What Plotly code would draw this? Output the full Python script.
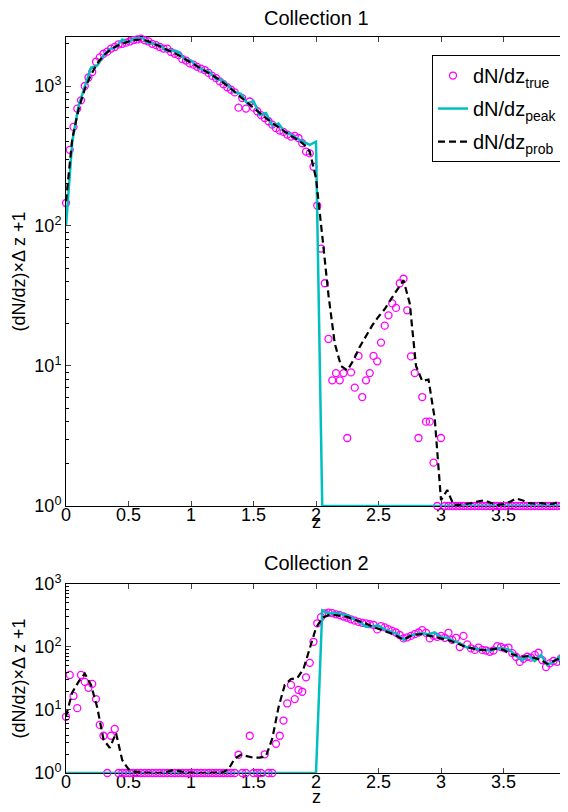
import numpy as np
import plotly.graph_objects as go

# redshift grids (true counts binned finer than the estimates)
z_true = np.round(np.arange(134) * 0.03, 2)
z_line = np.round(np.arange(81) * 0.05, 2)

# Collection 1
c1_true = [146, 350, 510, 690, 790, 1000, 1150, 1260, 1490, 1600,
           1700, 1760, 1850, 1900, 1980, 2000, 2040, 2080, 2130, 2150,
           2180, 2120, 2080, 2000, 1960, 1900, 1850, 1850, 1750, 1700,
           1660, 1560, 1520, 1450, 1420, 1370, 1330, 1300, 1240, 1180,
           1140, 1080, 1030, 980, 940, 900, 700, 820, 690, 775,
           700, 660, 620, 590, 560, 530, 500, 480, 470, 450,
           435, 440, 425, 390, 340, 330, 265, 140, 69, 39,
           15.6, 7.9, 8.9, 7.9, 8.9, 3.06, 9, 7, 11.8, 6,
           7.9, 8.9, 11.8, 10.8, 14.7, 19.4, 23, 28, 26, 39,
           42, 25, 11.7, 8.9, 3.06, 6, 4, 4, 2.04, 1,
           3.06, 1, 1, 1, 1, 1, 1, 1, 1, 1,
           1, 1, 1, 1, 1, 1, 1, 1, 1, 1,
           1, 1, 1, 1, 1, 1, 1, 1, 1, 1,
           1, 1, 1, 1]
c1_peak = [100, 400, 720, 1000, 1350, 1400, 1650, 1830, 1900, 2150,
           2050, 2200, 2250, 2050, 2000, 1950, 1800, 1800, 1750, 1550,
           1520, 1380, 1300, 1250, 1120, 1100, 1000, 900, 880, 750,
           780, 620, 640, 520, 540, 470, 450, 420, 400, 380,
           400, 1, 1, 1, 1, 1, 1, 1, 1, 1,
           1, 1, 1, 1, 1, 1, 1, 1, 1, 1,
           1, 1, 1, 1, 1, 1, 1, 1, 1, 1,
           1, 1, 1, 1, 1, 1, 1, 1, 1, 1,
           1]
c1_prob = [150, 420, 680, 950, 1200, 1450, 1650, 1800, 1920, 2000,
           2080, 2130, 2150, 2100, 2020, 1920, 1830, 1750, 1660, 1560,
           1470, 1390, 1310, 1230, 1150, 1070, 990, 910, 830, 760,
           700, 640, 590, 545, 505, 470, 440, 415, 385, 340,
           220, 85, 32, 14.5, 10, 9.3, 11, 13.7, 16.5, 19.5,
           22.5, 25.5, 30, 35, 41, 28, 10, 7.8, 8.0, 4.2,
           1.1, 1.3, 1.02, 1.02, 1.03, 1.05, 1.08, 1.1, 1.05, 1.02,
           1.03, 1.07, 1.13, 1.1, 1.05, 1.04, 1.05, 1.03, 1.04, 1.08,
           1.12]

# Collection 2
c2_true = [7.8, 36, 16.7, 10.7, 36, 28, 22.5, 26, 14.9, 5.8,
           3.9, 1, 3.9, 5, 1, 1, 1, 1, 1, 1,
           1, 1, 1, 1, 1, 1, 1, 1, 1, 1,
           1, 1, 1, 1, 1, 1, 1, 1, 1, 1,
           1, 1, 1, 1, 1, 1, 1.95, 1, 1, 3.9,
           1, 1, 1, 1.98, 1, 1, 2.9, 3.9, 6.8, 12.7,
           25, 14.9, 20.8, 19.5, 33, 56, 121, 238, 297, 343,
           350, 345, 330, 320, 305, 290, 275, 262, 250, 242,
           238, 230, 225, 190, 215, 205, 192, 180, 170, 155,
           137, 142, 150, 160, 170, 185, 168, 137, 150, 145,
           150, 140, 168, 130, 140, 100, 150, 110, 95, 90,
           98, 90, 88, 84, 88, 103, 100, 95, 98, 80,
           70, 58, 65, 70, 68, 75, 81, 62, 48, 55,
           60, 58, 66, 55]
c2_peak = [1, 1, 1, 1, 1, 1, 1, 1, 1, 1,
           1, 1, 1, 1, 1, 1, 1, 1, 1, 1,
           1, 1, 1, 1, 1, 1, 1, 1, 1, 1,
           1, 1, 1, 1, 1, 1, 1, 1, 1, 1,
           1, 380, 340, 345, 330, 320, 280, 250, 210, 215,
           220, 190, 175, 160, 130, 150, 160, 165, 160, 170,
           140, 140, 125, 115, 100, 95, 92, 90, 88, 96,
           95, 90, 72, 62, 72, 60, 75, 52, 58, 70,
           21]
c2_prob = [8, 19, 28, 38, 25, 11, 3.4, 2.5, 4.3, 1.6,
           1.15, 1.05, 1.02, 1.0, 1.0, 1.0, 1.03, 1.1, 1.08, 1.02,
           1.0, 1.0, 1.0, 1.0, 1.0, 1.02, 1.15, 1.7, 1.95, 1.85,
           1.75, 1.75, 1.85, 3.5, 11, 25, 31, 32, 45, 95,
           200, 290, 320, 322, 310, 300, 275, 255, 235, 210,
           195, 180, 165, 148, 130, 148, 158, 160, 152, 145,
           138, 130, 120, 110, 100, 95, 90, 89, 92, 94,
           90, 78, 74, 70, 72, 67, 62, 54, 60, 66,
           22]

x_ticks = [0, 0.5, 1, 1.5, 2, 2.5, 3, 3.5, 4]
x_labels = ['0', '0.5', '1', '1.5', '2', '2.5', '3', '3.5', '4']
y_ticks = [1, 10, 100, 1000]
y_labels = ['10<sup>0</sup>', '10<sup>1</sup>', '10<sup>2</sup>', '10<sup>3</sup>']

MAGENTA = '#ff00ff'
CYAN = '#00bfbf'

fig = go.Figure()

panels = [(c1_true, c1_peak, c1_prob, 'x', 'y', True),
          (c2_true, c2_peak, c2_prob, 'x2', 'y2', False)]
for tr, pk, pb, xa, ya, leg in panels:
    fig.add_trace(go.Scatter(x=z_true, y=tr, mode='markers', name='dN/dz<sub>true</sub>',
                             legendgroup='t',
                             marker=dict(symbol='circle-open', size=7, color=MAGENTA,
                                         line=dict(width=1.3, color=MAGENTA)),
                             cliponaxis=False, showlegend=leg, xaxis=xa, yaxis=ya))
    fig.add_trace(go.Scatter(x=z_line, y=pk, mode='lines', name='dN/dz<sub>peak</sub>',
                             legendgroup='p',
                             line=dict(color=CYAN, width=2.5),
                             showlegend=leg, xaxis=xa, yaxis=ya))
    fig.add_trace(go.Scatter(x=z_line, y=pb, mode='lines', name='dN/dz<sub>prob</sub>',
                             legendgroup='b',
                             line=dict(color='black', width=2.2, dash='7px,4px'),
                             showlegend=leg, xaxis=xa, yaxis=ya))

xcommon = dict(range=[0, 4], tickvals=x_ticks, ticktext=x_labels, ticks='inside', ticklen=5,
               showline=True, linecolor='black', linewidth=1, mirror='ticks',
               showgrid=False, zeroline=False, layer='below traces', automargin=False,
               ticklabeloverflow='allow', tickfont=dict(size=18), ticklabelstandoff=-8)
ycommon = dict(type='log', tickvals=y_ticks, ticktext=y_labels, ticks='inside', ticklen=5,
               showline=True, linecolor='black', linewidth=1, mirror='ticks',
               showgrid=False, zeroline=False, automargin=False, tickfont=dict(size=18),
               minor=dict(dtick='D1', ticks='inside', ticklen=3, tickcolor='black', showgrid=False),
               title=dict(text='(dN/dz)×Δ z +1', standoff=4, font=dict(size=18)))

# the page body adds an 8px offset, so the figure is trimmed to avoid scrollbars
fig.update_layout(
    width=560, height=796,
    margin=dict(l=58, r=2, t=29, b=31),
    paper_bgcolor='white', plot_bgcolor='white',
    font=dict(family='Liberation Sans, Arial, sans-serif', size=18, color='black'),
    xaxis=dict(domain=[0, 1], anchor='y', **xcommon),
    yaxis=dict(domain=[0.3628, 1], anchor='x', range=[0, 3.35], **ycommon),
    xaxis2=dict(domain=[0, 1], anchor='y2', **xcommon),
    yaxis2=dict(domain=[0, 0.2568], anchor='x2', range=[0, 3], **ycommon),
    legend=dict(x=0.994, y=0.9755, xanchor='right', yanchor='top',
                bordercolor='black', borderwidth=1, bgcolor='white',
                font=dict(size=20), tracegroupgap=4),
    annotations=[
        dict(text='Collection 1', x=0.5, y=1.0258, xref='paper', yref='paper',
             showarrow=False, font=dict(size=20), yanchor='middle'),
        dict(text='Collection 2', x=0.5, y=0.2853, xref='paper', yref='paper',
             showarrow=False, font=dict(size=20), yanchor='middle'),
        dict(text='z', x=0.5, y=0.341, xref='paper', yref='paper',
             showarrow=False, font=dict(size=18), yanchor='middle'),
        dict(text='z', x=0.5, y=-0.0326, xref='paper', yref='paper',
             showarrow=False, font=dict(size=18), yanchor='middle'),
    ],
)

fig.write_html("out.html")
